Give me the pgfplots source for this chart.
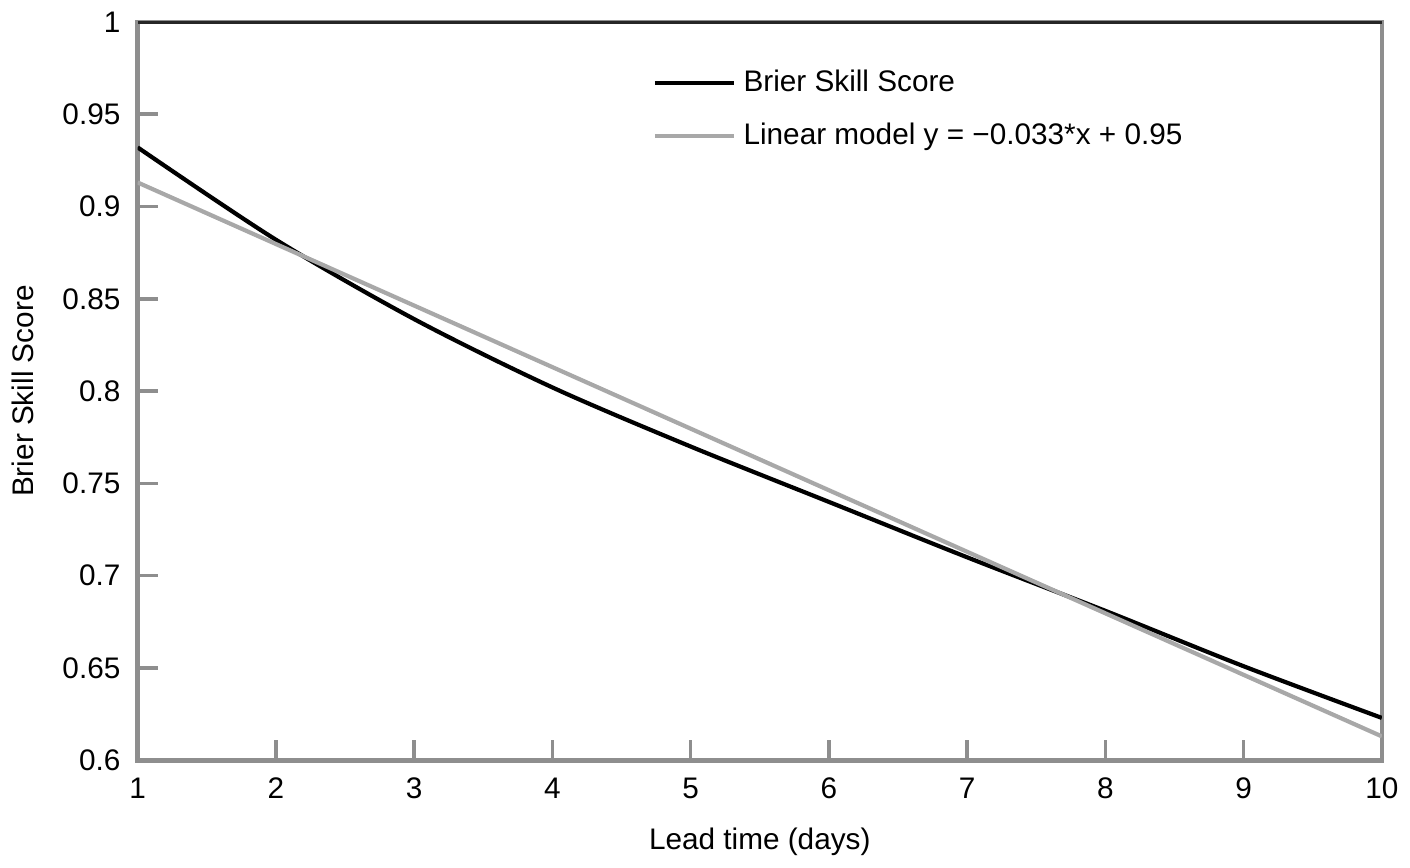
\documentclass[border=0pt]{standalone}
\usepackage{pgfplots}
\pgfplotsset{compat=1.18}
\usepackage{fontspec}
\setmainfont{Liberation Sans}
\definecolor{framegray}{HTML}{8E8E8E}
\definecolor{fitgray}{HTML}{A8A8A8}
\begin{document}
\begin{tikzpicture}
\begin{axis}[
  scale only axis,
  width=12.5cm, height=7.42cm,
  xmin=1, xmax=10, ymin=0.6, ymax=1,
  xtick={1,...,10},
  ytick={0.6,0.65,0.7,0.75,0.8,0.85,0.9,0.95,1},
  yticklabels={0.6,0.65,0.7,0.75,0.8,0.85,0.9,0.95,1},
  xtick pos=left, ytick pos=left,
  tick align=inside,
  major tick length=0.2cm,
  tick style={framegray, line width=1pt},
  axis line style={framegray, line width=1.3pt},
  /pgf/number format/assume math mode=true,
  ticklabel style={font=\fontsize{8.5}{10}\selectfont},
  label style={font=\fontsize{8.5}{10}\selectfont},
  xticklabel style={yshift=-0.05cm},
  yticklabel style={xshift=-0.05cm},
  xlabel={Lead time (days)},
  ylabel={Brier Skill Score},
  xlabel style={yshift=-0.05cm},
  ylabel style={yshift=0.05cm},
  legend style={draw=none, fill=none, at={(rel axis cs:0.405,0.955)}, anchor=north west,
    font=\fontsize{8.5}{10}\selectfont, row sep=0.12cm},
  legend cell align=left,
  legend image code/.code={\draw[#1] (0cm,0cm) -- (0.8cm,0cm);},
]
\addplot[black, line width=1.2pt, smooth] coordinates {
  (1,0.932) (2,0.882) (3,0.839) (4,0.802) (5,0.770) (6,0.740) (7,0.710) (8,0.681) (9,0.651) (10,0.623)
};
\addlegendentry{Brier Skill Score}
\addplot[fitgray, line width=1.2pt] coordinates {
  (1,0.913) (10,0.613)
};
\addlegendentry{Linear model y = −0.033*x + 0.95}
\draw[black!85, line width=1.3pt] (rel axis cs:0,1) -- (rel axis cs:1,1);
\end{axis}
\end{tikzpicture}
\end{document}
